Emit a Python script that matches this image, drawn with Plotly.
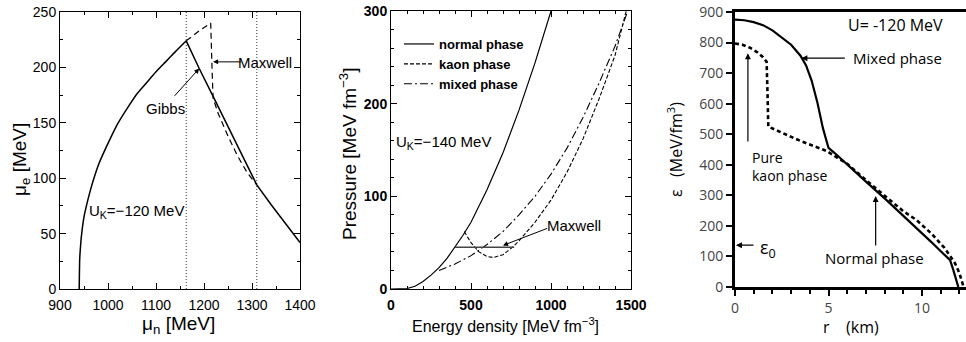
import plotly.graph_objects as go

W, H = 966, 342

# ---------------- panel (a): mu_e versus mu_n ----------------
mun_rise = [940, 941, 942, 944, 946, 950, 955, 962, 970, 980, 992, 1005, 1020, 1040, 1060, 1080, 1100, 1120, 1140, 1163]
mu_rise = [0, 26, 34, 45, 53, 65, 75, 87, 99, 112, 124, 136, 149, 163, 176, 186, 196, 205, 214, 224]
mun_gibbs = [1163, 1190, 1220, 1250, 1280, 1310, 1340, 1370, 1400]
mu_gibbs = [224, 199, 173, 147, 120, 94, 76, 59, 42]
mun_maxwell = [1163, 1190, 1214, 1216, 1217, 1219, 1230, 1250, 1270, 1290, 1310]
mu_maxwell = [224, 233, 240, 220, 195, 172, 158, 138, 120, 105, 94]
mixed_bounds = [1163, 1310]

# ---------------- panel (b): pressure versus energy density ----------------
eps_normal = [0, 50, 100, 150, 200, 250, 300, 350, 400, 450, 500, 600, 700, 800, 900, 1000]
p_normal = [0, 0, 0.5, 3, 8, 15, 23, 33, 45, 58, 72, 107, 147, 193, 244, 300]
eps_kaon = [458, 500, 550, 600, 640, 700, 766, 800, 900, 1000, 1100, 1200, 1300, 1400, 1470]
p_kaon = [62, 50, 40, 35, 34, 37, 46, 52, 72, 96, 126, 162, 205, 252, 300]
eps_mixed = [300, 400, 500, 600, 700, 800, 900, 1000, 1100, 1200, 1300, 1400, 1480]
p_mixed = [20, 27, 36, 48, 62, 80, 100, 124, 152, 185, 222, 262, 300]
eps_maxline = [400, 770]
p_maxline = [45, 45]

# ---------------- panel (c): energy density profile ----------------
r_mixed = [0, 0.5, 1, 1.5, 2, 2.5, 3, 3.5, 3.8, 4.1, 4.4, 4.7, 4.9, 5.0, 5.3, 6, 7, 8, 9, 9.27, 10, 10.5, 11, 11.5, 11.67, 11.8, 11.9, 11.94]
e_mixed = [875, 873, 867, 857, 840, 818, 793, 757, 725, 675, 605, 520, 470, 455, 440, 400, 345, 290, 234, 219, 176, 147, 117, 88, 56, 30, 10, 0]
r_kaon = [0, 0.4, 0.8, 1.2, 1.5, 1.69, 1.74, 1.78, 2.5, 3.5, 4.9, 6, 7, 8, 9, 9.71, 10.5, 11.2, 11.76, 12.0, 12.15, 12.22]
e_kaon = [797, 793, 783, 768, 752, 737, 630, 525, 505, 478, 445, 403, 350, 298, 248, 219, 175, 128, 78, 45, 15, 0]

NARROW = "Liberation Sans Narrow, Arial Narrow, Liberation Sans, Arial"
LIGHT = "Open Sans, Lato, Liberation Sans"

fig = go.Figure()

# panel (a): common rising branch, Gibbs branch, Maxwell branch, mixed-phase bounds
fig.add_trace(go.Scatter(x=mun_rise, y=mu_rise, mode="lines",
                         line=dict(color="black", width=1.5, shape="spline", smoothing=0.6),
                         showlegend=False, xaxis="x", yaxis="y"))
fig.add_trace(go.Scatter(x=mun_gibbs, y=mu_gibbs, mode="lines",
                         line=dict(color="black", width=1.5), showlegend=False, xaxis="x", yaxis="y"))
fig.add_trace(go.Scatter(x=mun_maxwell, y=mu_maxwell, mode="lines",
                         line=dict(color="black", width=1.2, dash="6px,4px"), showlegend=False, xaxis="x", yaxis="y"))
for xb in mixed_bounds:
    fig.add_trace(go.Scatter(x=[xb, xb], y=[0, 250], mode="lines",
                             line=dict(color="black", width=0.8, dash="1px,2px"), showlegend=False, xaxis="x", yaxis="y"))

# panel (b)
fig.add_trace(go.Scatter(x=eps_normal, y=p_normal, mode="lines", name="normal phase",
                         line=dict(color="black", width=1.2), xaxis="x2", yaxis="y2"))
fig.add_trace(go.Scatter(x=eps_kaon, y=p_kaon, mode="lines", name="kaon phase",
                         line=dict(color="black", width=1.1, dash="4px,2px"), xaxis="x2", yaxis="y2"))
fig.add_trace(go.Scatter(x=eps_mixed, y=p_mixed, mode="lines", name="mixed phase",
                         line=dict(color="black", width=1.1, dash="8px,3px,2px,3px"), xaxis="x2", yaxis="y2"))
fig.add_trace(go.Scatter(x=eps_maxline, y=p_maxline, mode="lines", showlegend=False,
                         line=dict(color="#444", width=1.6), xaxis="x2", yaxis="y2"))

# panel (c)
fig.add_trace(go.Scatter(x=r_mixed, y=e_mixed, mode="lines", showlegend=False,
                         line=dict(color="black", width=2.2), xaxis="x3", yaxis="y3"))
fig.add_trace(go.Scatter(x=r_kaon, y=e_kaon, mode="lines", showlegend=False,
                         line=dict(color="black", width=2.6, dash="4px,3px"), xaxis="x3", yaxis="y3"))

ydom12 = [1 - 289 / H, 1 - 12 / H]
ydom3 = [1 - 287 / H, 1 - 12 / H]

box = dict(showline=True, linecolor="black", linewidth=1, mirror="ticks", ticks="inside",
           tickcolor="black", ticklen=6, showgrid=False, zeroline=False, automargin=False)

fig.update_layout(
    width=W, height=H, margin=dict(l=0, r=0, t=0, b=0, autoexpand=False),
    paper_bgcolor="white", plot_bgcolor="white",
    font=dict(family=NARROW, color="black"),
    xaxis=dict(domain=[60 / W, 300 / W], range=[900, 1400], anchor="y", dtick=100, tick0=900,
               minor=dict(dtick=50, ticklen=3, ticks="inside", tickcolor="black"),
               ticklabelstandoff=3, tickfont=dict(size=14, family=NARROW), **box),
    yaxis=dict(domain=ydom12, range=[0, 250], anchor="x", dtick=50,
               minor=dict(dtick=25, ticklen=3, ticks="inside", tickcolor="black"),
               tickfont=dict(size=14, family=NARROW), **box),
    xaxis2=dict(domain=[391 / W, 631 / W], range=[0, 1500], anchor="y2", dtick=500,
                minor=dict(dtick=100, ticklen=3, ticks="inside", tickcolor="black"),
                ticklabelstandoff=3, tickfont=dict(size=14, family=NARROW, weight="bold"), **box),
    yaxis2=dict(domain=[1 - 289 / H, 1 - 11 / H], range=[0, 300], anchor="x2", dtick=100,
                minor=dict(dtick=20, ticklen=3, ticks="inside", tickcolor="black"),
                tickfont=dict(size=14, family=NARROW, weight="bold"), **box),
    xaxis3=dict(domain=[735 / W, 1.0], range=[0, 12.35], anchor="y3", dtick=5, automargin=False,
                showline=True, linecolor="black", linewidth=3, mirror=True,
                ticks="outside", ticklen=6, tickwidth=1.5, tickcolor="black",
                minor=dict(dtick=1, ticklen=4, ticks="outside", tickcolor="black", tickwidth=1.5),
                showgrid=False, zeroline=False, tickfont=dict(size=14, family=LIGHT, color="#444")),
    yaxis3=dict(domain=ydom3, range=[0, 900], anchor="x3", dtick=100, automargin=False,
                showline=True, linecolor="black", linewidth=3,
                ticks="outside", ticklen=6, tickwidth=1.5, tickcolor="black",
                showgrid=False, zeroline=False, tickfont=dict(size=14, family=LIGHT, color="#444")),
    legend=dict(x=399 / W, y=1 - 29 / H, xanchor="left", yanchor="top", bgcolor="rgba(0,0,0,0)",
                font=dict(size=13, family=NARROW, weight="bold"), tracegroupgap=0),
)

ann = []


def label(text, x, y, xref, yref, size, family=NARROW, angle=0, xanchor="center", **kw):
    ann.append(dict(text=text, x=x, y=y, xref=xref, yref=yref, showarrow=False,
                    xanchor=xanchor, yanchor="middle",
                    font=dict(size=size, family=family, color=kw.pop("color", "black")),
                    textangle=angle, **kw))


def arrow(x, y, ax, ay, xref, yref, width=1, size=1.0):
    ann.append(dict(text="", x=x, y=y, ax=ax, ay=ay, xref=xref, yref=yref, axref=xref, ayref=yref,
                    showarrow=True, arrowhead=2, arrowsize=size, arrowwidth=width, arrowcolor="black"))


# axis titles
label("μ<sub>n</sub> [MeV]", 178 / W, 1 - 325 / H, "paper", "paper", 19)
label("μ<sub>e</sub> [MeV]", 21 / W, 1 - 160 / H, "paper", "paper", 19, angle=-90)
label("Energy density [MeV fm<sup>−3</sup>]", 505 / W, 1 - 325 / H, "paper", "paper", 16)
label("Pressure [MeV fm<sup>−3</sup>]", 348 / W, 1 - 154 / H, "paper", "paper", 19, angle=-90)
label("r", 826 / W, 1 - 327 / H, "paper", "paper", 16, family=LIGHT)
label("(km)", 862 / W, 1 - 327 / H, "paper", "paper", 16, family=LIGHT)
label("ε   (MeV/fm<sup>3</sup>)", 675 / W, 1 - 150 / H, "paper", "paper", 16, family=LIGHT, angle=-90)

# panel (a) notes
label("U<sub>K</sub>=−120 MeV", 1060, 70, "x", "y", 15)
label("Gibbs", 1119, 163, "x", "y", 15)
arrow(1190, 199, 1136, 173, "x", "y")
label("Maxwell", 1327, 204, "x", "y", 15)
arrow(1219, 205, 1280, 205, "x", "y")

# panel (b) notes
label("U<sub>K</sub>=−140 MeV", 331, 158, "x2", "y2", 15)
label("Maxwell", 1141, 69, "x2", "y2", 15)
arrow(700, 47, 985, 66, "x2", "y2")

# panel (c) notes
label("U= -120 MeV", 8.6, 857, "x3", "y3", 16, family=LIGHT)
label("Mixed phase", 8.7, 749, "x3", "y3", 15, family=LIGHT)
arrow(3.55, 749, 5.95, 749, "x3", "y3", width=1.2)
label("Pure<br>kaon phase", 0.8, 396, "x3", "y3", 14, family=LIGHT, xanchor="left", align="left")
arrow(0.69, 765, 0.69, 471, "x3", "y3", width=1.2)
label("Normal phase", 7.47, 95, "x3", "y3", 15, family=LIGHT)
arrow(7.52, 298, 7.52, 131, "x3", "y3", width=1.2)
label("ε<sub>0</sub>", 1.76, 127, "x3", "y3", 18, family=LIGHT)
arrow(0.05, 137, 1.07, 137, "x3", "y3", width=1.2)

fig.update_layout(annotations=ann)
fig.write_html("out.html")
